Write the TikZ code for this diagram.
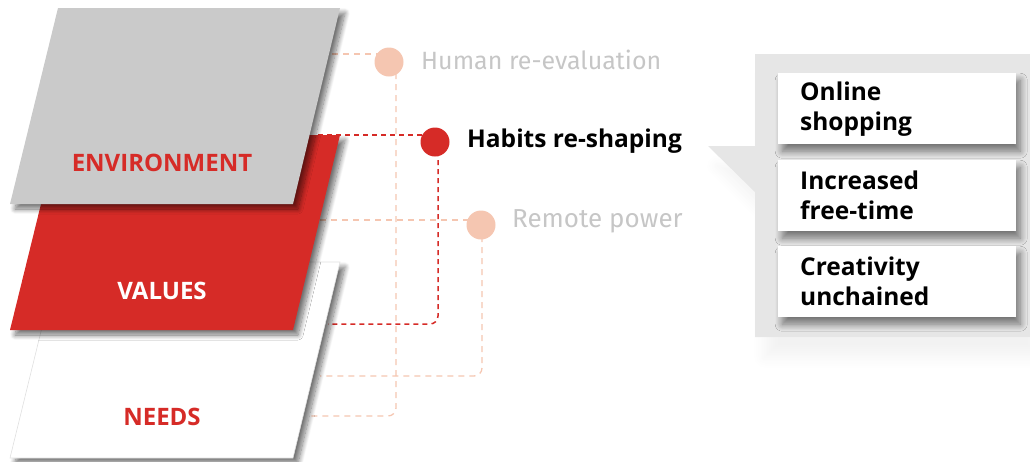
\documentclass[tikz,border=0pt]{standalone}
\usepackage{fontspec}
\setmainfont{Fira Sans}
\newfontfamily\boldface{Open Sans}
\usetikzlibrary{shadows.blur}
\definecolor{myred}{HTML}{D62B27}
\definecolor{envgray}{HTML}{CACACA}
\definecolor{peach}{HTML}{F5C6B1}
\definecolor{lighttxt}{HTML}{C6C6C6}
\definecolor{panelgray}{HTML}{E6E6E6}
\begin{document}
\begin{tikzpicture}[x=1pt,y=-1pt,
  dot/.style={circle,minimum size=29pt,inner sep=0pt},
  peachdash/.style={draw=peach,line width=1.3pt,dash pattern=on 6pt off 5pt,rounded corners=8pt},
  reddash/.style={draw=myred,line width=1.5pt,dash pattern=on 5pt off 4pt,rounded corners=8pt},
  para/.style={blur shadow={shadow xshift=5pt,shadow yshift=-5pt,shadow blur steps=12,shadow opacity=55,shadow blur radius=5pt}},
  layertxt/.style={font=\boldface\fontsize{24}{28}\selectfont\bfseries},
  itemtxt/.style={font=\fontsize{25}{30}\selectfont, anchor=west, inner sep=0pt},
  boxstyle/.style={fill=white,minimum width=238pt,minimum height=71pt,anchor=north west,
     text width=194pt,align=left,inner xsep=22pt,inner ysep=0pt,
     font=\boldface\fontsize{24.5}{30}\selectfont\bfseries,
     blur shadow={shadow xshift=4pt,shadow yshift=-7pt,shadow blur steps=10,shadow opacity=50,shadow blur radius=7pt}}
]
\useasboundingbox (0,0) rectangle (1030,461);

% centres of the dots and connector end points at the layers
\coordinate (hc) at (389,62);
\coordinate (bc) at (435,142);
\coordinate (rc) at (481,225);
\coordinate (hin) at (332,54);
\coordinate (hout) at (307,416);
\coordinate (bin) at (318,135);
\coordinate (bout) at (328,324);
\coordinate (rin) at (320,220);
\coordinate (rout) at (320,376);

% connectors
\draw[peachdash] (hin) -- (hin -| hc);
\draw[peachdash] ([xshift=7pt]hc) |- (hout);
\draw[reddash] (bin) -- (bin -| bc);
\draw[reddash] ([xshift=3pt]bc) |- (bout);
\draw[peachdash] (rin) -- (rin -| rc);
\draw[peachdash] ([xshift=1pt]rc) |- (rout);

% layers (parallelograms)
\path[para,fill=white,draw=black!12,line width=0.6pt] (58,262) -- (340,262) -- (293,458) -- (10,458) -- cycle;
\path[para,fill=myred] (58,135) -- (340,135) -- (293,330) -- (10,330) -- cycle;
\path[para,fill=envgray] (58,8) -- (340,8) -- (293,204) -- (10,204) -- cycle;
\node[layertxt,text=myred] (env) at (162,163) {ENVIRONMENT};
\node[layertxt,text=white] (val) at (162,291) {VALUES};
\node[layertxt,text=myred] (need) at (162,417) {NEEDS};

% dots and labels
\node[dot,fill=peach] (hdot) at (hc) {};
\node[dot,fill=myred] (bdot) at (bc) {};
\node[dot,fill=peach] (rdot) at (rc) {};
\node[itemtxt,text=lighttxt] (htxt) at (421,60) {Human re-evaluation};
\node[itemtxt,text=black,font=\boldface\fontsize{24.5}{30}\selectfont\bfseries] (btxt) at (467,141) {Habits re-shaping};
\node[itemtxt,text=lighttxt,font=\fontsize{26}{30}\selectfont] (rtxt) at (512,221) {Remote power};

% callout panel
\path[fill=panelgray,blur shadow={shadow xshift=10pt,shadow yshift=-20pt,shadow blur steps=12,shadow opacity=5,shadow blur radius=12pt}]
  (708,146) -- (755,146) -- (755,54) -- (1030,54) -- (1030,337) -- (755,337) -- (755,192) -- cycle;
\node[boxstyle] (b1) at (778,73) {Online\\shopping};
\node[boxstyle] (b2) at (778,160) {Increased\\free-time};
\node[boxstyle] (b3) at (778,246) {Creativity\\unchained};
\end{tikzpicture}
\end{document}
